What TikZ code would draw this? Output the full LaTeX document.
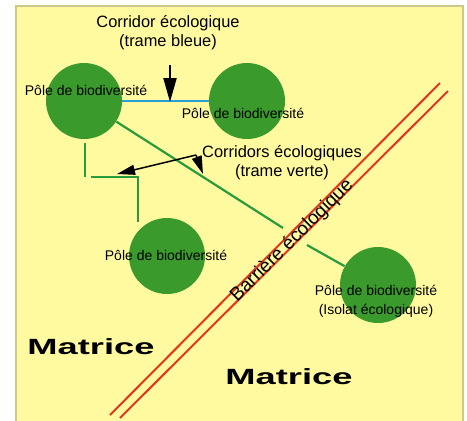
\documentclass[tikz,border=0pt]{standalone}
\usepackage{fontspec}
\setmainfont{Liberation Sans}
\usetikzlibrary{arrows.meta,calc}
\definecolor{fond}{RGB}{255,250,160}
\definecolor{bord}{RGB}{205,200,140}
\definecolor{vertpole}{RGB}{58,154,44}
\definecolor{vertligne}{RGB}{40,155,60}
\definecolor{bleuligne}{RGB}{40,160,220}
\definecolor{rouge}{RGB}{225,55,30}

\begin{document}
\begin{tikzpicture}[x=0.5pt,y=-0.5pt,
  pole/.style={circle,fill=vertpole,minimum size=38pt,inner sep=0pt},
  etiq/.style={font=\fontsize{7}{9.5}\selectfont,align=center,inner sep=0pt},
  titre/.style={font=\fontsize{8.2}{9.5}\selectfont,align=center,inner sep=0pt},
  matrice/.style={font=\fontsize{11}{13}\selectfont\bfseries,inner sep=0pt},
  corvert/.style={draw=vertligne,line width=1.1pt},
  corbleu/.style={draw=bleuligne,line width=1.3pt},
  barriere/.style={draw=rouge,line width=1pt},
  fleche/.style={-{Triangle[length=12pt,width=6.5pt]},line width=1pt},
  flechev/.style={-{Triangle[length=9pt,width=5pt]},line width=0.75pt}]
	\useasboundingbox (0,0) rectangle (467,420);
	\fill[white] (0,0) rectangle (467,420);
	\draw[fill=fond,draw=bord,line width=0.6pt] (16,6) rectangle (463,430);

	% poles
	\node[pole] (P1) at (84,101)  {};
	\node[pole] (P2) at (247,101) {};
	\node[pole] (P3) at (167,256) {};
	\node[pole] (P4) at (378,285) {};

	% barriere
	\coordinate (ba1) at (440,83);
	\coordinate (ba2) at (110,415);
	\coordinate (bb1) at (448,91);
	\coordinate (bb2) at (120,418);
	\draw[barriere] (ba1) -- (ba2);
	\draw[barriere] (bb1) -- (bb2);

	% corridors
	\coordinate (g1) at (283,228);
	\coordinate (g2) at (307,245);
	\coordinate (c1) at (85,177);
	\coordinate (c2) at (91,177);
	\coordinate (c3) at (138,177);
	\draw[corbleu] (P1) -- (P2);
	\draw[corvert] (P1) -- (g1);
	\draw[corvert] (g2) -- (P4);
	\draw[corvert,shorten <=2pt] (c1 |- P1.south) -- (c1);
	\draw[corvert] (c2) -- (c3) -- ([yshift=-2pt]c3 |- P3.north);

	% textes
	\node[etiq] (L1) at (86,90)    {Pôle de biodiversité};
	\node[etiq] (L2) at (243,113)  {Pôle de biodiversité};
	\node[etiq] (L3) at (166,255)  {Pôle de biodiversité};
	\node[etiq] (L4) at (376,301.5) {Pôle de biodiversité\\(Isolat écologique)};
	\node[titre] (TB) at (168,33)  {Corridor écologique\\(trame bleue)};
	\node[titre] (TV) at (282,163) {Corridors écologiques\\(trame verte)};
	\node[etiq,font=\fontsize{9.5}{11}\selectfont,rotate=45] (BE) at (292,241) {Barrière écologique};
	\node[matrice] (M1) at (91,347)  {\scalebox{1.65}[1]{Matrice}};
	\node[matrice] (M2) at (289,377) {\scalebox{1.65}[1]{Matrice}};

	% fleches
	\coordinate (hb) at (170,65);
	\coordinate (cb) at (170,102);
	\coordinate (av) at (196,155);
	\coordinate (tv1) at (117,174);
	\coordinate (tv2) at (203,174);
	\draw[fleche] (hb) -- (cb);
	\draw[flechev] (av) -- (tv1);
	\draw[flechev] (av) -- (tv2);
\end{tikzpicture}
\end{document}
